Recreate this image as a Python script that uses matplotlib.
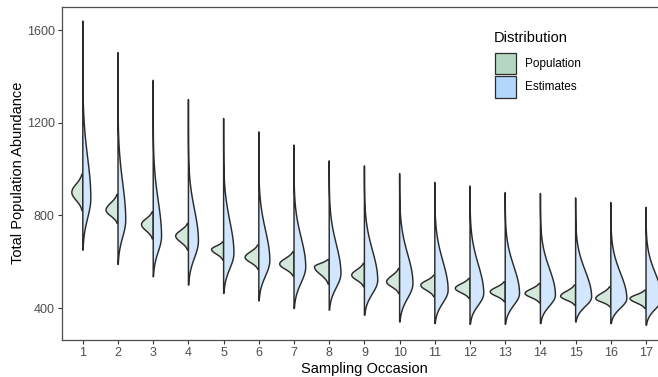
import numpy as np
import matplotlib
matplotlib.use("Agg")
import matplotlib.pyplot as plt
from matplotlib.patches import Rectangle

plt.rcParams['font.family'] = ['Liberation Sans', 'DejaVu Sans']

# ---- data ----
occasions = list(range(1, 18))

# Estimates half (right side)
est_top = [1640, 1504, 1384, 1301, 1219, 1161, 1104, 1036, 1014, 981, 943, 927, 899, 895, 876, 856, 835]
est_bot = [650, 588, 535, 499, 463, 431, 398, 391, 369, 340, 333, 330, 330, 333, 340, 333, 326]
est_mode = [875, 780, 710, 690, 637, 605, 578, 549, 520, 506, 477, 463, 463, 456, 448, 441, 441]
est_halfup = [1080, 970, 890, 850, 800, 760, 728, 698, 672, 655, 625, 610, 600, 590, 580, 570, 565]
est_width_px = [8, 7.7, 8.3, 10, 10.3, 11, 11.7, 11.7, 13.3, 13.3, 13.3, 13.7, 14.3, 15, 16, 16, 16]

# Population half (left side)
pop_top = [978, 891, 816, 765, 686, 672, 643, 610, 593, 571, 542, 528, 513, 506, 499, 492, 477]
pop_bot = [820, 765, 698, 650, 607, 567, 538, 503, 492, 463, 448, 441, 427, 422, 412, 405, 398]
pop_mode = [900, 823, 761, 711, 653, 619, 590, 578, 542, 513, 499, 485, 470, 463, 451, 441, 441]
pop_width_px = [11, 12, 11.7, 12.7, 12, 13.7, 14.3, 14.7, 12.7, 13, 14, 14.7, 15, 15.3, 15, 15, 16]

y_ticks = [400, 800, 1200, 1600]

# ---- style ----
W, H = 658, 377
PX_PER_CAT = 35.2
pop_fill = '#d3e7da'
est_fill = '#d2e7fd'
pop_key = '#b5d7c2'
est_key = '#b3d6fb'
edge = '#2b2b2b'
LW = 1.05

fig = plt.figure(figsize=(W / 100, H / 100), dpi=100)
ax_left, ax_bottom_px, ax_top_px = 61.7, 340, 6.7
ax_width_px = 17.2 * PX_PER_CAT
ax_height_px = ax_bottom_px - ax_top_px
ax = fig.add_axes([ax_left / W, (H - ax_bottom_px) / H, ax_width_px / W,
                   ax_height_px / H])
ax.set_xlim(0.4, 17.6)
ax.set_ylim(261.8, 1702)


def profile(y, mode, s_lo, s_up):
    s = np.where(y > mode, s_up, s_lo)
    return np.exp(-0.5 * ((y - mode) / s) ** 2)


for i, c in enumerate(occasions):
    # population, left half
    y = np.linspace(pop_bot[i], pop_top[i], 300)
    s_up = (pop_top[i] - pop_mode[i]) / 2.2
    s_lo = (pop_mode[i] - pop_bot[i]) / 2.3
    w = pop_width_px[i] / PX_PER_CAT * profile(y, pop_mode[i], s_lo, s_up)
    xs = np.concatenate([[c], c - w, [c]])
    ys = np.concatenate([[pop_bot[i]], y, [pop_top[i]]])
    ax.fill(xs, ys, facecolor=pop_fill, edgecolor=edge, lw=LW, joinstyle='round', zorder=2)

    # estimates, right half
    y = np.linspace(est_bot[i], est_top[i], 600)
    s_up = (est_halfup[i] - est_mode[i]) / 1.1774
    s_lo = (est_mode[i] - est_bot[i]) / 2.6
    w = est_width_px[i] / PX_PER_CAT * profile(y, est_mode[i], s_lo, s_up)
    xs = np.concatenate([[c], c + w, [c]])
    ys = np.concatenate([[est_bot[i]], y, [est_top[i]]])
    ax.fill(xs, ys, facecolor=est_fill, edgecolor=edge, lw=LW, joinstyle='round', zorder=2)

ax.set_xticks(occasions)
ax.set_xticklabels([str(o) for o in occasions])
ax.set_yticks(y_ticks)
ax.set_yticklabels([str(v) for v in y_ticks])
ax.tick_params(length=3, width=0.8, color='#333333', labelcolor='#4d4d4d',
               labelsize=9, pad=2)
for sp in ax.spines.values():
    sp.set_color('#4d4d4d')
    sp.set_linewidth(0.9)

ax.set_xlabel('Sampling Occasion', fontsize=10.5, color='black', va='center')
ax.set_ylabel('Total Population Abundance', fontsize=10.5, color='black', va='center')
ax.xaxis.set_label_coords((364 - ax_left) / ax_width_px, (ax_bottom_px - 369) / ax_height_px)
ax.yaxis.set_label_coords((18 - ax_left) / ax_width_px, (ax_bottom_px - 173) / ax_height_px)

# legend drawn manually
fig.text(494 / W, 1 - 38.3 / H, 'Distribution', fontsize=10.5, va='center', ha='left')
for k, (col, lab) in enumerate([(pop_key, 'Population'), (est_key, 'Estimates')]):
    top_px = 52.7 + k * 23.5
    fig.add_artist(Rectangle((494.5 / W, 1 - (top_px + 21.5) / H), 21.5 / W, 21.5 / H,
                             transform=fig.transFigure, facecolor=col,
                             edgecolor=edge, lw=0.9))
    fig.text(525 / W, 1 - (top_px + 10.8) / H, lab, fontsize=8.5, va='center', ha='left')

fig.savefig('out.png', dpi=100)
